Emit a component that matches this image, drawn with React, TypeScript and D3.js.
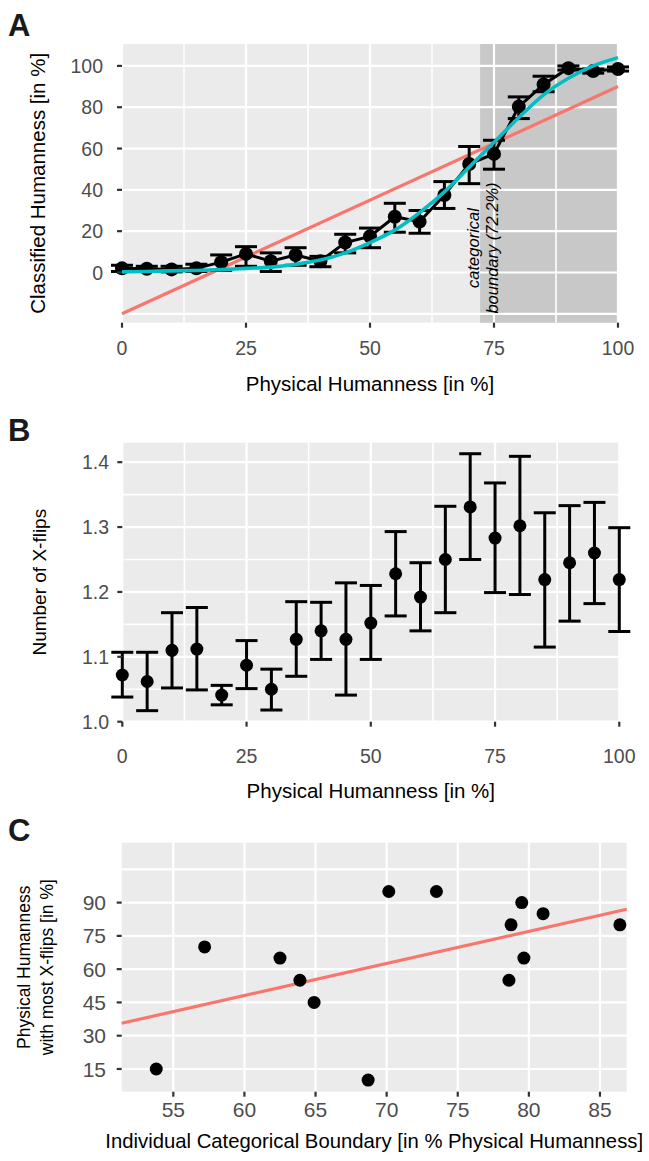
import React from "react";
import * as d3 from "d3";

const FONT = "'Liberation Sans', Arial, Helvetica, sans-serif";

// ---- panel A: classification ----
const humanness = [0, 5, 10, 15, 20, 25, 30, 35, 40, 45, 50, 55, 60, 65, 70, 75, 80, 85, 90, 95, 100];
const classifiedMean = [2, 1.8, 1.5, 2, 5, 9, 5.5, 8.5, 5.5, 14.5, 17.5, 27, 24.6, 37.5, 52.5, 57.4, 80.3, 91, 98.9, 97.5, 98.5];
const classifiedLow = [0.5, 0.5, 0.3, 0.5, 1, 3, 0.5, 3.5, 2.8, 9.5, 12, 19.5, 19, 31, 43, 50, 74.5, 87.5, 98, 96.5, 97.5];
const classifiedHigh = [3.5, 3, 3, 4, 8.5, 12.5, 9.5, 12, 7.8, 18.5, 21.5, 33.5, 30, 44, 61, 64, 85, 95, 100, 98.5, 99.5];
const sigmoidFit = [0.3, 0.5, 0.8, 1, 1.4, 2, 2.6, 4, 6, 9.5, 14.5, 20.5, 29, 39, 51, 63, 75, 86, 94, 100, 104];
const linearFitX = [0, 100];
const linearFitY = [-20, 90];
const boundary = 72.2;
const yTicksA = [0, 20, 40, 60, 80, 100];
const yGridA = [-20, 0, 20, 40, 60, 80, 100];

const xTicks = [0, 25, 50, 75, 100];
const xMinor = [12.5, 37.5, 62.5, 87.5];

// ---- panel B: x-flips ----
const flipsMean = [1.072, 1.062, 1.11, 1.112, 1.041, 1.087, 1.05, 1.127, 1.14, 1.127, 1.152, 1.228, 1.192, 1.25, 1.331, 1.283, 1.302, 1.219, 1.245, 1.26, 1.219];
const flipsLow = [1.038, 1.017, 1.052, 1.049, 1.026, 1.051, 1.018, 1.07, 1.096, 1.041, 1.096, 1.163, 1.14, 1.168, 1.25, 1.199, 1.196, 1.115, 1.155, 1.182, 1.139];
const flipsHigh = [1.107, 1.107, 1.168, 1.176, 1.056, 1.125, 1.081, 1.185, 1.184, 1.214, 1.21, 1.293, 1.245, 1.332, 1.413, 1.368, 1.409, 1.322, 1.333, 1.338, 1.299];
const yTicksB = [1.0, 1.1, 1.2, 1.3, 1.4];
const yMinorB = [1.05, 1.15, 1.25, 1.35];

// ---- panel C: individual boundaries ----
const indivBoundary = [53.8, 57.2, 62.5, 63.9, 64.9, 68.7, 70.15, 73.5, 78.6, 78.75, 79.5, 79.65, 81, 86.4];
const mostFlips = [15, 70, 65, 55, 45, 10, 95, 95, 55, 80, 90, 65, 85, 80];
const fitCX = [51.37, 86.88];
const fitCY = [35.6, 87.0];
const xTicksC = [55, 60, 65, 70, 75, 80, 85];
const yTicksC = [15, 30, 45, 60, 75, 90];
const yGridC = [15, 30, 45, 60, 75, 90, 105];

const RED = "#F8766D";
const CYAN = "#00BFC4";
const PANEL = "#EBEBEB";
const SHADE = "#C8C8C8";
const TICK_TXT = "#4D4D4D";

const xA = d3.scaleLinear().domain([0, 100]).range([122, 618]);
const yA = d3.scaleLinear().domain([-24.3, 110.6]).range([322.7, 44]);
const xB = d3.scaleLinear().domain([0, 100]).range([122.3, 619.3]);
const yB = d3.scaleLinear().domain([1.0, 1.43]).range([721.7, 442.7]);
const xC = d3.scaleLinear().domain([51.37, 86.88]).range([121.7, 626.7]);
const yC = d3.scaleLinear().domain([4.76, 117]).range([1091.7, 842.7]);

const ErrorBars = ({ xs, lo, hi, x, y, half }) => (
  <g stroke="#000" strokeWidth={3} fill="none">
    {xs.map((v, i) => (
      <g key={i}>
        <line x1={x(v)} x2={x(v)} y1={y(lo[i])} y2={y(hi[i])} />
        <line x1={x(v) - half} x2={x(v) + half} y1={y(lo[i])} y2={y(lo[i])} />
        <line x1={x(v) - half} x2={x(v) + half} y1={y(hi[i])} y2={y(hi[i])} />
      </g>
    ))}
  </g>
);

const YAxis = ({ y, ticks, left, labelX, fmt, size }) => (
  <g>
    {ticks.map((t) => (
      <g key={t}>
        <line x1={left - 5} x2={left} y1={y(t)} y2={y(t)} stroke="#333" strokeWidth={2.2} />
        <text x={labelX} y={y(t)} dy="0.36em" textAnchor="end" fontSize={size} fill={TICK_TXT}>
          {fmt(t)}
        </text>
      </g>
    ))}
  </g>
);

const XAxis = ({ x, ticks, bottom, labelY, size }) => (
  <g>
    {ticks.map((t) => (
      <g key={t}>
        <line x1={x(t)} x2={x(t)} y1={bottom} y2={bottom + 5} stroke="#333" strokeWidth={2.2} />
        <text x={x(t)} y={labelY} textAnchor="middle" fontSize={size} fill={TICK_TXT}>
          {t}
        </text>
      </g>
    ))}
  </g>
);

export default function App() {
  const [a0, a1] = xA.range();
  const [aB, aT] = yA.range();
  const lineA = d3.line().x((d) => xA(d[0])).y((d) => yA(d[1]));
  const fitCurve = d3.line().curve(d3.curveMonotoneX).x((d) => xA(d[0])).y((d) => yA(d[1]));

  const [cL, cR] = xC.range();
  const [cB, cT] = yC.range();
  const bL = 122.3, bR = 619.3;
  const [bB, bT] = yB.range();

  return (
    <svg width={649} height={1161} style={{ position: "absolute", left: 0, top: 0, background: "#fff" }} fontFamily={FONT}>
      {/* ================= A ================= */}
      <text x={8} y={36} fontSize={31} fontWeight="bold" fill="#1a1a1a">A</text>
      <rect x={a0} y={aT} width={a1 - a0} height={aB - aT} fill={PANEL} />
      <rect x={xA(boundary)} y={aT} width={xA(100) - xA(boundary)} height={aB - aT} fill={SHADE} />
      {xMinor.map((t) => (
        <line key={t} x1={xA(t)} x2={xA(t)} y1={aT} y2={aB} stroke="#fff" strokeWidth={1.6} />
      ))}
      {xTicks.map((t) => (
        <line key={t} x1={xA(t)} x2={xA(t)} y1={aT} y2={aB} stroke="#fff" strokeWidth={2.2} />
      ))}
      {yGridA.map((t) => (
        <line key={t} x1={a0} x2={a1} y1={yA(t)} y2={yA(t)} stroke="#fff" strokeWidth={2.2} />
      ))}
      <path
        d={lineA(linearFitX.map((v, i) => [v, linearFitY[i]]))}
        stroke={RED}
        strokeWidth={3.2}
        fill="none"
      />
      <ErrorBars xs={humanness} lo={classifiedLow} hi={classifiedHigh} x={xA} y={yA} half={11} />
      <path
        d={lineA(humanness.map((v, i) => [v, classifiedMean[i]]))}
        stroke="#000"
        strokeWidth={3}
        fill="none"
      />
      {humanness.map((v, i) => (
        <circle key={i} cx={xA(v)} cy={yA(classifiedMean[i])} r={7} fill="#000" />
      ))}
      <path
        d={fitCurve(humanness.map((v, i) => [v, sigmoidFit[i]]))}
        stroke={CYAN}
        strokeWidth={3.6}
        fill="none"
      />
      <text transform={`translate(${xA(boundary) - 7},248) rotate(-90)`} textAnchor="middle" dy="0.35em" fontSize={16.5} fontStyle="italic" fill="#000">
        categorical
      </text>
      <text transform={`translate(${xA(boundary) + 12},248) rotate(-90)`} textAnchor="middle" dy="0.35em" fontSize={16.5} fontStyle="italic" fill="#000">
        boundary (72.2%)
      </text>
      <YAxis y={yA} ticks={yTicksA} left={a0} labelX={103} fmt={(t) => String(t)} size={19.5} />
      <XAxis x={xA} ticks={xTicks} bottom={aB} labelY={355} size={19.5} />
      <text x={(a0 + a1) / 2} y={391} textAnchor="middle" fontSize={20.5} fill="#000">
        Physical Humanness [in %]
      </text>
      <text transform={`translate(38,${(aT + aB) / 2}) rotate(-90)`} textAnchor="middle" dy="0.35em" fontSize={20.5} fill="#000">
        Classified Humanness [in %]
      </text>

      {/* ================= B ================= */}
      <text x={8} y={441} fontSize={31} fontWeight="bold" fill="#1a1a1a">B</text>
      <rect x={bL} y={bT} width={bR - bL} height={bB - bT} fill={PANEL} />
      {xMinor.map((t) => (
        <line key={t} x1={xB(t)} x2={xB(t)} y1={bT} y2={bB} stroke="#fff" strokeWidth={1.6} />
      ))}
      {xTicks.map((t) => (
        <line key={t} x1={xB(t)} x2={xB(t)} y1={bT} y2={bB} stroke="#fff" strokeWidth={2.2} />
      ))}
      {yMinorB.map((t) => (
        <line key={t} x1={bL} x2={bR} y1={yB(t)} y2={yB(t)} stroke="#fff" strokeWidth={1.6} />
      ))}
      {yTicksB.map((t) => (
        <line key={t} x1={bL} x2={bR} y1={yB(t)} y2={yB(t)} stroke="#fff" strokeWidth={2.2} />
      ))}
      <ErrorBars xs={humanness} lo={flipsLow} hi={flipsHigh} x={xB} y={yB} half={11} />
      {humanness.map((v, i) => (
        <circle key={i} cx={xB(v)} cy={yB(flipsMean[i])} r={6.5} fill="#000" />
      ))}
      <YAxis y={yB} ticks={yTicksB} left={bL} labelX={109} fmt={(t) => t.toFixed(1)} size={19.5} />
      <XAxis x={xB} ticks={xTicks} bottom={bB} labelY={763} size={19.5} />
      <text x={(bL + bR) / 2} y={798} textAnchor="middle" fontSize={20.5} fill="#000">
        Physical Humanness [in %]
      </text>
      <text transform={`translate(39,${(bT + bB) / 2}) rotate(-90)`} textAnchor="middle" dy="0.35em" fontSize={19} fill="#000">
        Number of X-flips
      </text>

      {/* ================= C ================= */}
      <text x={8} y={841} fontSize={31} fontWeight="bold" fill="#1a1a1a">C</text>
      <rect x={cL} y={cT} width={cR - cL} height={cB - cT} fill={PANEL} />
      {xTicksC.map((t) => (
        <line key={t} x1={xC(t)} x2={xC(t)} y1={cT} y2={cB} stroke="#fff" strokeWidth={2.2} />
      ))}
      {yGridC.map((t) => (
        <line key={t} x1={cL} x2={cR} y1={yC(t)} y2={yC(t)} stroke="#fff" strokeWidth={2.2} />
      ))}
      <line x1={xC(fitCX[0])} x2={xC(fitCX[1])} y1={yC(fitCY[0])} y2={yC(fitCY[1])} stroke={RED} strokeWidth={3.2} />
      {indivBoundary.map((v, i) => (
        <circle key={i} cx={xC(v)} cy={yC(mostFlips[i])} r={6.5} fill="#000" />
      ))}
      <YAxis y={yC} ticks={yTicksC} left={cL} labelX={106} fmt={(t) => String(t)} size={21} />
      <XAxis x={xC} ticks={xTicksC} bottom={cB} labelY={1117} size={21} />
      <text x={(cL + cR) / 2} y={1148} textAnchor="middle" fontSize={20.3} fill="#000">
        Individual Categorical Boundary [in % Physical Humanness]
      </text>
      <text transform={`translate(24,${(cT + cB) / 2}) rotate(-90)`} textAnchor="middle" dy="0.35em" fontSize={17.5} fill="#000">
        Physical Humanness
      </text>
      <text transform={`translate(47,${(cT + cB) / 2}) rotate(-90)`} textAnchor="middle" dy="0.35em" fontSize={17.5} fill="#000">
        with most X-flips [in %]
      </text>
    </svg>
  );
}
